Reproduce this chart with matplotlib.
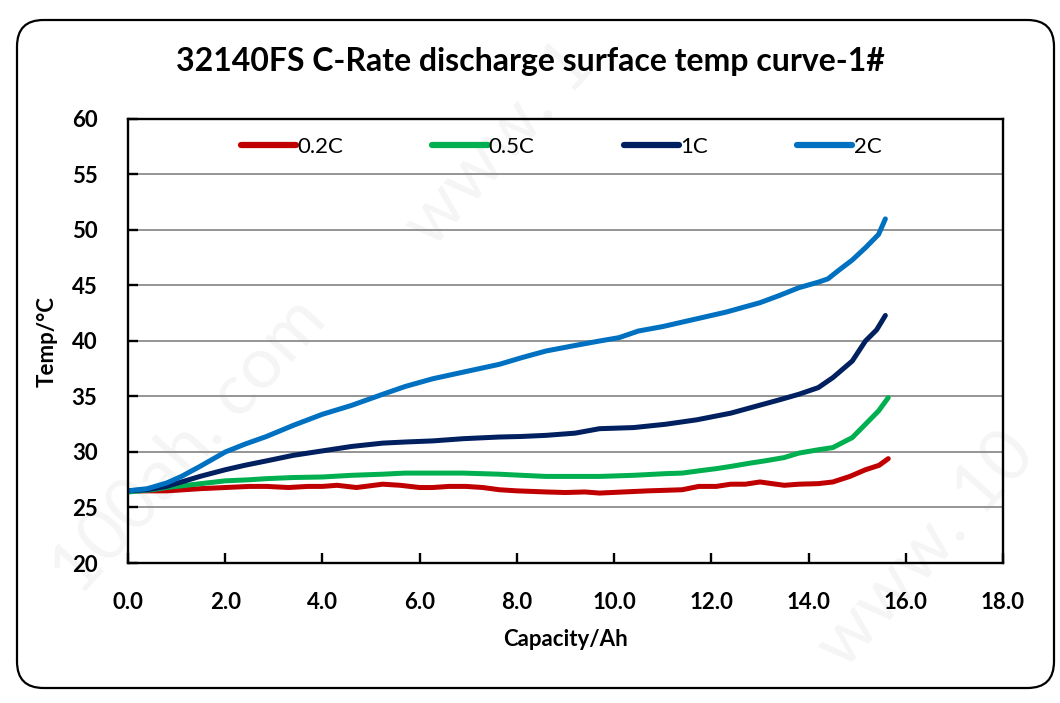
import matplotlib
matplotlib.use("Agg")
import matplotlib.pyplot as plt
from matplotlib.patches import FancyBboxPatch

plt.rcParams['font.family'] = ['Lato', 'DejaVu Sans']

# ---- data ----
cap_02 = [0.0, 0.5, 0.8, 1.5, 2.0, 2.5, 2.85, 3.3, 3.7, 4.0, 4.3, 4.7, 5.24, 5.6, 6.0, 6.27, 6.6, 6.95, 7.3, 7.64, 8.0, 8.6, 9.0, 9.4, 9.7, 10.2, 10.7, 11.06, 11.4, 11.74, 12.1, 12.4, 12.7, 13.0, 13.5, 13.8, 14.2, 14.5, 14.85, 15.17, 15.45, 15.64]
temp_02 = [26.5, 26.5, 26.5, 26.7, 26.8, 26.9, 26.9, 26.8, 26.9, 26.9, 27.0, 26.8, 27.1, 27.0, 26.8, 26.8, 26.9, 26.9, 26.8, 26.6, 26.5, 26.4, 26.35, 26.4, 26.3, 26.4, 26.5, 26.55, 26.6, 26.9, 26.9, 27.1, 27.1, 27.3, 27.0, 27.1, 27.15, 27.3, 27.8, 28.4, 28.8, 29.4]

cap_05 = [0.0, 0.5, 0.79, 1.4, 2.0, 2.5, 2.85, 3.4, 4.0, 4.6, 5.24, 5.7, 6.27, 6.9, 7.64, 8.1, 8.6, 9.2, 9.7, 10.4, 11.06, 11.4, 11.74, 12.1, 12.4, 12.8, 13.1, 13.5, 13.8, 14.2, 14.5, 14.9, 15.17, 15.44, 15.64]
temp_05 = [26.4, 26.6, 26.8, 27.1, 27.4, 27.5, 27.6, 27.7, 27.75, 27.9, 28.0, 28.1, 28.1, 28.1, 28.0, 27.9, 27.8, 27.8, 27.8, 27.9, 28.05, 28.1, 28.3, 28.5, 28.7, 29.0, 29.2, 29.5, 29.9, 30.2, 30.4, 31.3, 32.5, 33.7, 34.9]

cap_1 = [0.0, 0.4, 0.79, 1.1, 1.48, 2.0, 2.4, 2.85, 3.4, 4.0, 4.6, 5.24, 5.7, 6.27, 6.9, 7.64, 8.1, 8.6, 9.2, 9.7, 10.4, 11.06, 11.7, 12.4, 12.9, 13.4, 13.8, 14.2, 14.5, 14.9, 15.17, 15.4, 15.58]
temp_1 = [26.5, 26.6, 26.9, 27.3, 27.8, 28.4, 28.8, 29.2, 29.7, 30.1, 30.5, 30.8, 30.9, 31.0, 31.2, 31.35, 31.4, 31.5, 31.7, 32.1, 32.2, 32.5, 32.9, 33.5, 34.1, 34.7, 35.2, 35.8, 36.7, 38.2, 40.0, 41.0, 42.3]

cap_2 = [0.0, 0.4, 0.79, 1.1, 1.48, 2.0, 2.4, 2.85, 3.4, 4.0, 4.6, 5.24, 5.7, 6.27, 6.9, 7.64, 8.1, 8.6, 9.2, 9.7, 10.1, 10.5, 11.0, 11.7, 12.3, 13.0, 13.4, 13.8, 14.2, 14.4, 14.6, 14.9, 15.17, 15.44, 15.58]
temp_2 = [26.5, 26.7, 27.2, 27.8, 28.7, 30.0, 30.7, 31.4, 32.4, 33.4, 34.2, 35.2, 35.9, 36.6, 37.2, 37.9, 38.5, 39.1, 39.6, 40.0, 40.3, 40.9, 41.3, 42.0, 42.6, 43.45, 44.1, 44.8, 45.3, 45.6, 46.3, 47.3, 48.4, 49.6, 51.0]

labels = ['0.2C', '0.5C', '1C', '2C']
colors = ['#C00000', '#00B050', '#002060', '#0070C0']
x_ticks = [0, 2, 4, 6, 8, 10, 12, 14, 16, 18]
y_ticks = [20, 25, 30, 35, 40, 45, 50, 55, 60]

W, H = 1060, 703
fig = plt.figure(figsize=(W / 100, H / 100), dpi=100)

# rounded outer border
border = FancyBboxPatch((17 / W, 1 - 688 / H), (1054 - 17) / W, (688 - 20) / H,
                        boxstyle="round,pad=0,rounding_size=0.025",
                        transform=fig.transFigure, facecolor='white',
                        edgecolor='black', linewidth=1.6, zorder=-2,
                        mutation_aspect=W / H)
fig.patches.append(border)

# faint watermark (behind the plot content)
wm = dict(fontsize=52, color='black', alpha=0.045, rotation=48,
          rotation_mode='anchor', ha='left', va='baseline', zorder=-1)
fig.text(80 / W, 1 - 598 / H, '100ah. com', **wm)
fig.text(432 / W, 1 - 250 / H, 'www. 1', **wm)
fig.text(845 / W, 1 - 672 / H, 'www. 10', **wm)

x0, x1, ytop, ybot = 128, 1003, 119, 563
ax = fig.add_axes([x0 / W, 1 - ybot / H, (x1 - x0) / W, (ybot - ytop) / H])
ax.set_facecolor('none')
series = [(cap_02, temp_02), (cap_05, temp_05), (cap_1, temp_1), (cap_2, temp_2)]
for (xs, ys), lab, c in zip(series, labels, colors):
    ax.plot(xs, ys, color=c, lw=3.6, label=lab, solid_capstyle='round',
            solid_joinstyle='round')

ax.set_xlim(0, 18)
ax.set_ylim(20, 60)
ax.set_xticks(x_ticks)
ax.set_xticklabels([f"{v:.1f}" for v in x_ticks])
ax.set_yticks(y_ticks)
ax.set_yticklabels([str(v) for v in y_ticks])
ax.grid(axis='y', color='#8c8c8c', lw=1.3)
ax.set_axisbelow(True)
for s in ax.spines.values():
    s.set_linewidth(1.7)
    s.set_color('black')
ax.tick_params(direction='in', length=7, width=1.7, labelsize=16)
for lab in ax.get_xticklabels() + ax.get_yticklabels():
    lab.set_fontweight('bold')
ax.tick_params(axis='x', pad=21)
ax.tick_params(axis='y', pad=22)

ax.set_xlabel('Capacity/Ah', fontsize=16, fontweight='bold')
ax.set_ylabel('Temp/°C', fontsize=16, fontweight='bold')
ax.xaxis.set_label_coords((565 - x0) / (x1 - x0), -(640 - ybot) / (ybot - ytop))
ax.xaxis.label.set_va('center')
ax.yaxis.set_label_coords(-(x0 - 47) / (x1 - x0), (ybot - 342) / (ybot - ytop))
ax.yaxis.label.set_va('center')

leg = ax.legend(loc='center', bbox_to_anchor=((561 - x0) / (x1 - x0), (ybot - 147) / (ybot - ytop)),
                ncol=4, frameon=False, fontsize=16, handlelength=2.5,
                handletextpad=0.05, columnspacing=4.0, borderaxespad=0)
for h in leg.get_lines():
    h.set_linewidth(4.5)
    h.set_solid_capstyle('round')

fig.text(0.5, 1 - 62 / H, '32140FS C-Rate discharge surface temp curve-1#',
         ha='center', va='center', fontsize=23, fontweight='bold')

fig.savefig('out.png', dpi=100)
